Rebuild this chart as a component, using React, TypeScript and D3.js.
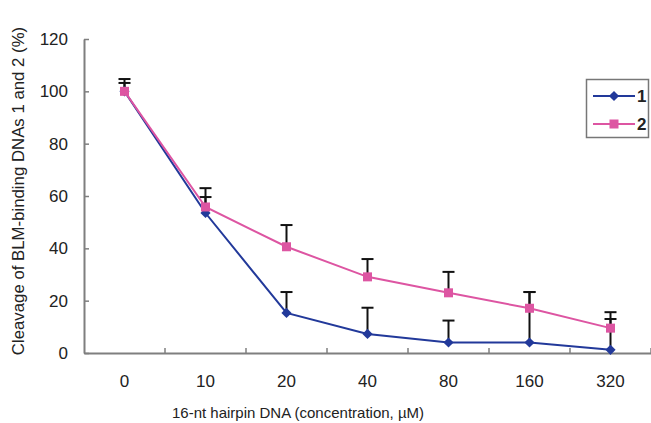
import React, { useEffect, useRef } from 'react';
import * as d3 from 'd3';

const categories = ["0", "10", "20", "40", "80", "160", "320"];
const series1 = [100, 53.5, 15.3, 7.3, 4.0, 4.0, 1.2];
const series1Err = [3.2, 6.1, 8.0, 10.0, 8.4, 19.3, 11.8];
const series2 = [100, 55.8, 40.6, 29.1, 23.0, 17.1, 9.5];
const series2Err = [4.7, 7.2, 8.3, 6.8, 8.0, 6.2, 6.1];
const yTicks = [0, 20, 40, 60, 80, 100, 120];

const BLUE = "#22399a";
const PINK = "#dd55a2";

const App = () => {
  const svgRef = useRef<SVGSVGElement>(null);

  useEffect(() => {
    const svg = d3.select(svgRef.current);
    svg.selectAll("*").remove();

    const x = d3.scaleBand<string>().domain(categories).range([84, 651]);
    const y = d3.scaleLinear().domain([0, 120]).range([353, 39]);
    const cx = (c: string) => (x(c) as number) + x.bandwidth() / 2;
    const font = "Arial, 'Liberation Sans', sans-serif";

    // y axis
    const ya = svg.append("g")
      .attr("transform", "translate(84,0)")
      .call(d3.axisLeft(y).tickValues(yTicks).tickSizeInner(-5).tickSizeOuter(0).tickPadding(16));
    ya.select(".domain").attr("stroke", "#7f7f7f").attr("stroke-width", 2);
    ya.selectAll(".tick line").attr("stroke", "#7f7f7f").attr("stroke-width", 1.5);
    ya.selectAll("text").attr("font-size", 17).attr("font-family", font).attr("fill", "#222");

    // x axis
    const xa = svg.append("g")
      .attr("transform", "translate(0,353)")
      .call(d3.axisBottom(x).tickSize(0).tickPadding(22));
    xa.select(".domain").attr("stroke", "#7f7f7f").attr("stroke-width", 2);
    xa.selectAll("text").attr("font-size", 17).attr("font-family", font).attr("fill", "#222");
    xa.selectAll("line.bound")
      .data(categories)
      .enter().append("line")
      .attr("class", "bound")
      .attr("x1", d => (x(d) as number) + x.bandwidth())
      .attr("x2", d => (x(d) as number) + x.bandwidth())
      .attr("y1", 0).attr("y2", -5)
      .attr("stroke", "#7f7f7f").attr("stroke-width", 1.5);

    // axis titles
    svg.append("text")
      .attr("transform", "translate(24,191) rotate(-90)")
      .attr("text-anchor", "middle")
      .attr("font-size", 16.8).attr("font-family", font).attr("fill", "#222")
      .text("Cleavage of BLM-binding DNAs 1 and 2 (%)");
    svg.append("text")
      .attr("x", 298).attr("y", 418)
      .attr("text-anchor", "middle")
      .attr("font-size", 15).attr("font-family", font).attr("fill", "#222")
      .text("16-nt hairpin DNA (concentration, µM)");

    const line = d3.line<number>()
      .x((_, i) => cx(categories[i]))
      .y(d => y(d));

    const errBars = (vals: number[], errs: number[]) => {
      const g = svg.append("g");
      vals.forEach((v, i) => {
        const px = cx(categories[i]);
        g.append("line").attr("x1", px).attr("x2", px)
          .attr("y1", y(v)).attr("y2", y(v + errs[i]))
          .attr("stroke", "#111").attr("stroke-width", 2);
        g.append("line").attr("x1", px - 6).attr("x2", px + 6)
          .attr("y1", y(v + errs[i])).attr("y2", y(v + errs[i]))
          .attr("stroke", "#111").attr("stroke-width", 2);
      });
    };

    errBars(series1, series1Err);
    errBars(series2, series2Err);

    // series 1 (blue diamonds)
    svg.append("path").datum(series1)
      .attr("d", line).attr("fill", "none")
      .attr("stroke", BLUE).attr("stroke-width", 2);
    svg.selectAll("rect.p1")
      .data(series1)
      .enter().append("rect")
      .attr("class", "p1")
      .attr("x", -3.6).attr("y", -3.6).attr("width", 7.2).attr("height", 7.2)
      .attr("transform", (d, i) => `translate(${cx(categories[i])},${y(d)}) rotate(45)`)
      .attr("fill", BLUE);

    // series 2 (pink squares)
    svg.append("path").datum(series2)
      .attr("d", line).attr("fill", "none")
      .attr("stroke", PINK).attr("stroke-width", 2);
    svg.selectAll("rect.p2")
      .data(series2)
      .enter().append("rect")
      .attr("class", "p2")
      .attr("x", (d, i) => cx(categories[i]) - 4.5)
      .attr("y", d => y(d) - 4.5)
      .attr("width", 9).attr("height", 9)
      .attr("fill", PINK);

    // legend
    const legend = svg.append("g");
    legend.append("rect")
      .attr("x", 586.5).attr("y", 79.5).attr("width", 62).attr("height", 58)
      .attr("fill", "#fff").attr("stroke", "#777").attr("stroke-width", 1.5);
    [{ k: "1", c: BLUE }, { k: "2", c: PINK }].forEach((s, i) => {
      const ry = 96 + i * 28;
      legend.append("line").attr("x1", 593).attr("x2", 635).attr("y1", ry).attr("y2", ry)
        .attr("stroke", s.c).attr("stroke-width", 2);
      if (i === 0) {
        legend.append("rect").attr("x", -3.6).attr("y", -3.6).attr("width", 7.2).attr("height", 7.2)
          .attr("transform", `translate(614,${ry}) rotate(45)`).attr("fill", s.c);
      } else {
        legend.append("rect").attr("x", 609.5).attr("y", ry - 4.5).attr("width", 9).attr("height", 9).attr("fill", s.c);
      }
      legend.append("text").attr("x", 637).attr("y", ry + 6)
        .attr("font-size", 17).attr("font-weight", "bold").attr("font-family", font).attr("fill", "#222")
        .text(s.k);
    });
  }, []);

  return (
    <svg ref={svgRef} width={651} height={423}
      style={{ position: "absolute", left: 0, top: 0, background: "#fff" }} />
  );
};

export default App;
